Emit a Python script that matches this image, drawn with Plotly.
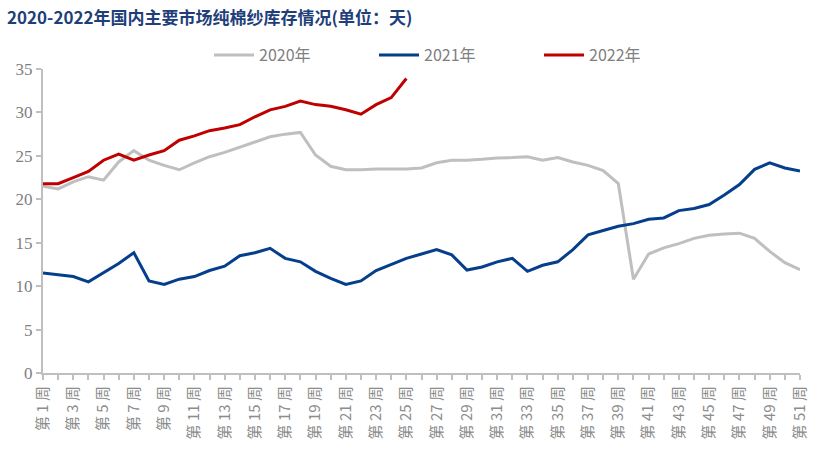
import plotly.graph_objects as go

weeks = list(range(1, 52))
week_labels = [f"第 {w} 周" if w % 2 == 1 else "" for w in weeks]

s2020 = [21.5, 21.2, 22.0, 22.6, 22.2, 24.3, 25.6, 24.5, 23.9, 23.4,
         24.2, 24.9, 25.4, 26.0, 26.6, 27.2, 27.5, 27.7, 25.1, 23.8,
         23.4, 23.4, 23.5, 23.5, 23.5, 23.6, 24.2, 24.5, 24.5, 24.6,
         24.75, 24.8, 24.9, 24.5, 24.8, 24.3, 23.9, 23.3, 21.8, 10.8,
         13.7, 14.4, 14.9, 15.5, 15.85, 16.0, 16.1, 15.5, 14.0, 12.7, 11.9]
s2021 = [11.5, 11.3, 11.1, 10.5, 11.5, 12.6, 13.85, 10.6, 10.2, 10.8,
         11.1, 11.8, 12.3, 13.5, 13.85, 14.35, 13.2, 12.8, 11.7, 10.9,
         10.2, 10.6, 11.8, 12.5, 13.2, 13.7, 14.2, 13.6, 11.85, 12.2,
         12.8, 13.2, 11.7, 12.4, 12.8, 14.2, 15.9, 16.4, 16.9, 17.2,
         17.7, 17.85, 18.7, 18.95, 19.4, 20.5, 21.7, 23.45, 24.2, 23.6, 23.25]
s2022 = [21.8, 21.8, 22.5, 23.2, 24.5, 25.2, 24.5, 25.1, 25.6, 26.8,
         27.3, 27.9, 28.2, 28.6, 29.5, 30.3, 30.7, 31.3, 30.9, 30.7,
         30.3, 29.8, 30.9, 31.7, 33.9]

series = [("2020年", s2020, "#BFBFBF"),
          ("2021年", s2021, "#053F8C"),
          ("2022年", s2022, "#C00000")]

fig = go.Figure()
for name, vals, color in series:
    fig.add_trace(go.Scatter(x=weeks[:len(vals)], y=vals, name=name, mode="lines",
                             line=dict(color=color, width=3)))

axis_col = "#BFBFBF"
fig.update_layout(
    width=816, height=461,
    margin=dict(l=43, r=16, t=69, b=88, autoexpand=False),
    paper_bgcolor="white", plot_bgcolor="white",
    title=dict(text="<b>2020-2022年国内主要市场纯棉纱库存情况(单位：天)</b>",
               x=7 / 816, xanchor="left", xref="container", y=1 - 18 / 461, yanchor="middle",
               yref="container",
               font=dict(family="Noto Sans CJK SC", size=17, color="#1F3F7A")),
    legend=dict(orientation="h", x=(209 - 43) / 757, xanchor="left",
                y=1 - 55 / 461, yanchor="middle", yref="container",
                font=dict(family="Noto Sans CJK SC", size=16, color="#7F7F7F"),
                entrywidth=110, entrywidthmode="pixels", itemwidth=40,
                bgcolor="rgba(0,0,0,0)"),
    showlegend=True,
)
fig.update_xaxes(range=[1, 51], tickmode="array", tickvals=weeks, ticktext=week_labels,
                 tickangle=-90, showgrid=False, zeroline=False, automargin=False,
                 showline=True, linecolor=axis_col, linewidth=2,
                 ticks="outside", tickcolor=axis_col, ticklen=5, tickwidth=1.5,
                 tickfont=dict(family="Noto Sans CJK SC", size=15, color="#8C8C8C"))
fig.update_yaxes(range=[0, 35], tickvals=[0, 5, 10, 15, 20, 25, 30, 35],
                 showgrid=False, zeroline=False, automargin=False,
                 showline=True, linecolor=axis_col, linewidth=2,
                 ticks="outside", tickcolor=axis_col, ticklen=5, tickwidth=1.5,
                 tickfont=dict(family="Liberation Serif", size=17, color="#7F7F7F"))

fig.write_html("out.html", config={"displayModeBar": False},
               post_script="document.body.style.margin='0';")
